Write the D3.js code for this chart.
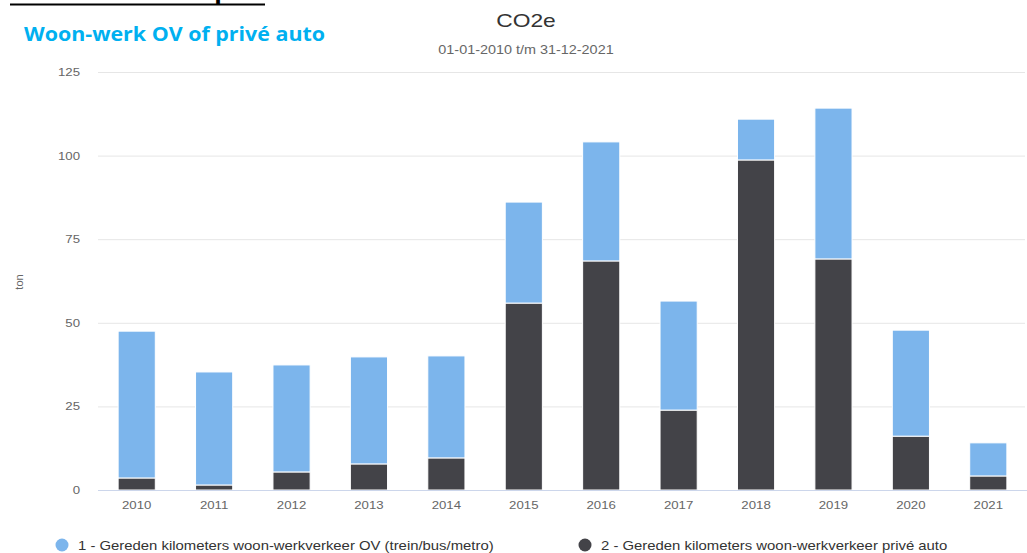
<!DOCTYPE html>
<html>
<head>
<meta charset="utf-8">
<script src="https://cdn.jsdelivr.net/npm/d3@7"></script>
<style>
    body { margin: 0; background: #fff; }
    svg { display: block; font-family: "Liberation Sans", Arial, sans-serif; }
</style>
</head>
<body>
<svg id="chart" width="1027" height="553"></svg>
<script>
// jaren en waarden (ton CO2e)
var jaren = ["2010", "2011", "2012", "2013", "2014", "2015", "2016", "2017", "2018", "2019", "2020", "2021"];
var priveAuto = [3.6, 1.5, 5.4, 7.8, 9.6, 55.9, 68.5, 23.9, 98.7, 69.1, 16.1, 4.2];
var ov = [43.9, 33.8, 32.0, 32.0, 30.5, 30.2, 35.6, 32.6, 12.2, 45.1, 31.7, 9.9];
var yTicks = [0, 25, 50, 75, 100, 125];
var series = [
    { key: "auto", naam: "2 - Gereden kilometers woon-werkverkeer privé auto", kleur: "#434348" },
    { key: "ov", naam: "1 - Gereden kilometers woon-werkverkeer OV (trein/bus/metro)", kleur: "#7cb5ec" }
];

(function() {
    var svg = d3.select("#chart");
    var left = 98, right = 1027, top = 72, bottom = 490;
    var rek = 1.2; // de tekst in het origineel is horizontaal uitgerekt

    function uitrekken(sel) {
        sel.each(function() {
            var w = this.getComputedTextLength();
            d3.select(this).attr("textLength", w * rek).attr("lengthAdjust", "spacingAndGlyphs");
        });
    }

    var x = d3.scaleBand().domain(jaren).range([left, right]).paddingInner(0.52).paddingOuter(0.26);
    var y = d3.scaleLinear().domain([0, 125]).range([bottom, top]);

    // rows for the stack
    var rows = jaren.map(function(j, i) {
        return { jaar: j, auto: priveAuto[i], ov: ov[i] };
    });
    var stack = d3.stack().keys(series.map(function(s) { return s.key; }));
    var lagen = stack(rows);

    // bovenste kop (grotendeels buiten het venster)
    svg.append("text")
        .attr("x", 10).attr("y", 0)
        .attr("font-family", "'Open Sans', sans-serif")
        .attr("font-weight", "bold").attr("font-size", 20)
        .attr("textLength", 255).attr("lengthAdjust", "spacingAndGlyphs")
        .attr("fill", "#000")
        .text("CO2-uitstoot Scope 3");
    svg.append("line")
        .attr("x1", 10).attr("x2", 265).attr("y1", 4.5).attr("y2", 4.5)
        .attr("stroke", "#000").attr("stroke-width", 2);

    svg.append("text")
        .attr("x", 24).attr("y", 41)
        .attr("font-family", "'Open Sans', sans-serif")
        .attr("font-weight", "bold").attr("font-size", 19)
        .attr("textLength", 301).attr("lengthAdjust", "spacingAndGlyphs")
        .attr("fill", "#00b0f0")
        .text("Woon-werk OV of privé auto");

    // titel
    svg.append("text")
        .attr("x", 526).attr("y", 27).attr("text-anchor", "middle")
        .attr("font-size", 19).attr("fill", "#333")
        .text("CO2e").call(uitrekken);
    svg.append("text")
        .attr("x", 526).attr("y", 54).attr("text-anchor", "middle")
        .attr("font-size", 12).attr("fill", "#666")
        .text("01-01-2010 t/m 31-12-2021").call(uitrekken);

    // gridlijnen + y-as
    var yAs = svg.append("g")
        .attr("transform", "translate(" + left + ",0)")
        .call(d3.axisLeft(y).tickValues(yTicks).tickSize(-(right - left - 2)).tickPadding(18));
    yAs.select(".domain").remove();
    yAs.selectAll(".tick line").attr("stroke", "#e6e6e6");
    yAs.selectAll(".tick text").attr("fill", "#666").attr("font-size", 11)
        .attr("font-family", "'Liberation Sans', Arial, sans-serif")
        .call(uitrekken);

    svg.append("text")
        .attr("transform", "translate(23," + ((top + bottom) / 2 + 1) + ") rotate(-90)")
        .attr("text-anchor", "middle")
        .attr("font-size", 11).attr("fill", "#666")
        .text("ton");

    // staven
    svg.selectAll("g.laag")
        .data(lagen)
        .enter().append("g")
        .attr("class", "laag")
        .attr("fill", function(d, i) { return series[i].kleur; })
        .selectAll("rect")
        .data(function(d) { return d; })
        .enter().append("rect")
        .attr("x", function(d) { return x(d.data.jaar); })
        .attr("width", x.bandwidth())
        .attr("y", function(d) { return y(d[1]); })
        .attr("height", function(d) { return y(d[0]) - y(d[1]); })
        .attr("stroke", "#fff").attr("stroke-width", 1);

    // x-as
    var xAs = svg.append("g")
        .attr("transform", "translate(0," + bottom + ")")
        .call(d3.axisBottom(x).tickSize(0).tickPadding(11));
    xAs.select(".domain").attr("stroke", "#ccd6eb").attr("d", "M" + left + ",0.5H" + right);
    xAs.selectAll(".tick text").attr("fill", "#666").attr("font-size", 11)
        .attr("font-family", "'Liberation Sans', Arial, sans-serif")
        .call(uitrekken);

    // legenda
    var legPos = [{ x: 62 }, { x: 585 }];
    var legData = [series[1], series[0]];
    var leg = svg.selectAll("g.leg")
        .data(legData)
        .enter().append("g")
        .attr("class", "leg")
        .attr("transform", function(d, i) { return "translate(" + legPos[i].x + ",545)"; });
    leg.append("circle").attr("r", 6.5).attr("fill", function(d) { return d.kleur; });
    leg.append("text")
        .attr("x", 16).attr("y", 4.5)
        .attr("font-size", 12.4).attr("fill", "#333")
        .text(function(d) { return d.naam; })
        .call(uitrekken);
})();
</script>
</body>
</html>
